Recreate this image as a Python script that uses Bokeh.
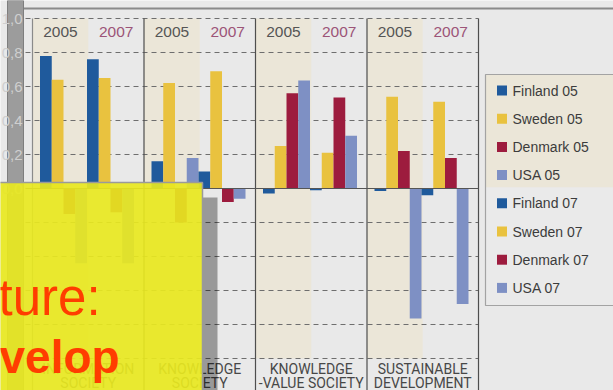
from bokeh.plotting import figure
from bokeh.models import Range1d, ColumnDataSource
from bokeh.core.properties import value
from bokeh.embed import file_html
from bokeh.resources import INLINE

# ---- data -------------------------------------------------------------
category_line1 = ["INFORMATION", "KNOWLEDGE", "KNOWLEDGE", "SUSTAINABLE"]
category_line2 = ["SOCIETY", "SOCIETY", "-VALUE SOCIETY", "DEVELOPMENT"]
years = ["2005", "2007"]
countries = ["Finland", "Sweden", "Denmark", "USA"]
country_colors = ["#1f5a9c", "#e9c23f", "#9d1c3e", "#7e90c4"]

finland_05 = [0.78, 0.16, -0.03, -0.015]
sweden_05 = [0.64, 0.62, 0.25, 0.54]
denmark_05 = [-0.15, -0.20, 0.56, 0.22]
usa_05 = [-0.44, 0.18, 0.635, -0.765]
finland_07 = [0.76, 0.10, -0.01, -0.04]
sweden_07 = [0.65, 0.69, 0.21, 0.51]
denmark_07 = [-0.14, -0.08, 0.535, 0.18]
usa_07 = [-0.44, -0.06, 0.31, -0.68]

grid_values = [1.0, 0.8, 0.6, 0.4, 0.2, -0.2, -0.4, -0.6, -0.8, -1.0]
y_ticks = [1.0, 0.8, 0.6, 0.4, 0.2, 0.0]
y_tick_labels = ["1,0", "0,8", "0,6", "0,4", "0,2", "0,0"]

# ---- layout helpers (canvas pixels -> data space) ---------------------
W, H = 613, 390
PANEL_LEFT, PANEL_W = 32.0, 111.5
ZERO_Y, PX_PER_UNIT = 188.0, 170.0
BAR_OFF, BAR_W = 7.5 / PANEL_W, 11.75 / PANEL_W


def sx(px):
    return (px - PANEL_LEFT) / PANEL_W


def sy(py):
    return (ZERO_Y - py) / PX_PER_UNIT


BG = "#e9e9e9"
BEIGE = "#ebe6d8"
FONT = "Liberation Sans"
NARROW = "Roboto"

p = figure(width=W, height=H, x_range=Range1d(sx(0), sx(W)),
           y_range=Range1d(sy(H), sy(0)), x_axis_location=None,
           y_axis_location=None, toolbar_location=None,
           output_backend="svg", min_border=0)
p.grid.visible = False
p.outline_line_color = None
p.background_fill_color = BG
p.border_fill_color = BG

n_cat = len(category_line1)

# 2005 halves of every panel get a beige band
p.quad(left=[i for i in range(n_cat)], right=[i + 0.5 for i in range(n_cat)],
       top=1.0, bottom=-1.0, fill_color=BEIGE, line_color=None)

# dashed grid, solid zero line
grid_x0, grid_x1 = sx(25), float(n_cat)
p.segment(x0=[grid_x0] * len(grid_values), y0=grid_values,
          x1=[grid_x1] * len(grid_values), y1=grid_values,
          line_color="#6e6e6e", line_width=1, line_dash="5 4")

# panel separators and left frame
p.segment(x0=[0], y0=[1.0], x1=[0], y1=[sy(H)], line_color="#8a8a8a", line_width=1.2)
p.segment(x0=list(range(1, n_cat + 1)), y0=[1.0] * n_cat,
          x1=list(range(1, n_cat + 1)), y1=[sy(H)] * n_cat,
          line_color="#4e4e4e", line_width=1.2)

# bars: 4 countries for 2005, then 4 for 2007, side by side in each panel
series = [finland_05, sweden_05, denmark_05, usa_05,
          finland_07, sweden_07, denmark_07, usa_07]
series_names = [f"{c} {y[-2:]}" for y in years for c in countries]
series_colors = country_colors * 2
for k, (vals, color, name) in enumerate(zip(series, series_colors, series_names)):
    xs = [i + BAR_OFF + BAR_W * (k + 0.5) for i in range(n_cat)]
    src = ColumnDataSource(dict(x=xs, top=vals))
    p.vbar(x="x", top="top", bottom=0, width=BAR_W, source=src,
           fill_color=color, line_color=None)

p.segment(x0=[sx(25)], y0=[0], x1=[float(n_cat)], y1=[0],
          line_color="#555555", line_width=1.2)

# year headers
year_colors = ["#555555", "#9c5478"]
for j, (yr, yc) in enumerate(zip(years, year_colors)):
    p.text(x=[i + 0.25 + 0.5 * j for i in range(n_cat)], y=[sy(31.5)] * n_cat,
           text=[yr] * n_cat, text_font=value(FONT), text_font_size="15.5px",
           text_color=yc, text_align="center", text_baseline="middle")

# category names under the panels
p.text(x=[i + 0.5 for i in range(n_cat)], y=[sy(368)] * n_cat, text=category_line1,
       text_font=value(NARROW), text_font_size="14px", text_color="#474747",
       text_align="center", text_baseline="middle")
p.text(x=[i + 0.5 for i in range(n_cat)], y=[sy(382.5)] * n_cat, text=category_line2,
       text_font=value(NARROW), text_font_size="14px", text_color="#474747",
       text_align="center", text_baseline="middle")

# legend
lg_top, lg_mid, lg_bot = sy(74), sy(187), sy(305)
p.quad(left=[sx(485)], right=[sx(640)], top=[lg_top], bottom=[lg_mid],
       fill_color=BEIGE, line_color=None)
p.quad(left=[sx(485)], right=[sx(640)], top=[lg_mid], bottom=[lg_bot],
       fill_color="#eaeaea", line_color=None)
p.quad(left=[sx(485)], right=[sx(640)], top=[lg_top], bottom=[lg_bot],
       fill_color=None, line_color="#a3a3a3", line_width=1.2)
row_y = [sy(90 + 28.2 * k) for k in range(len(series_names))]
p.rect(x=[sx(501.5)] * len(row_y), y=row_y, width=10, height=10,
       width_units="screen", height_units="screen",
       fill_color=series_colors, line_color=None)
p.text(x=[sx(512)] * len(row_y), y=row_y, text=series_names,
       text_font=value(FONT), text_font_size="14px", text_color="#3c3c3c",
       text_align="left", text_baseline="middle")

# grey strip and rule along the top-left of the slide
p.segment(x0=[sx(23)], y0=[sy(8)], x1=[sx(W)], y1=[sy(8)],
          line_color="#8a8a8a", line_width=2)
p.quad(left=[sx(7)], right=[sx(23)], top=[sy(0)], bottom=[sy(H)],
       fill_color="#000000", fill_alpha=0.33, line_color="#7e7e7e", line_width=1)
p.text(x=[sx(22)] * len(y_ticks), y=y_ticks, text=y_tick_labels,
       text_font=value(FONT), text_font_size="15px", text_color="#cfcfcf",
       text_align="right", text_baseline="middle")

# caption box with its shadow
p.quad(left=[sx(202)], right=[sx(217)], top=[sy(197)], bottom=[sy(H + 10)],
       fill_color="#000000", fill_alpha=0.34, line_color=None)
p.quad(left=[sx(-5)], right=[sx(202)], top=[sy(182)], bottom=[sy(H + 10)],
       fill_color="#e8e81f", fill_alpha=0.92, line_color=None)
p.line(x=[sx(-5), sx(202), sx(202)], y=[sy(182), sy(182), sy(H + 10)],
       line_color="#9a9a9a", line_width=1.5)
p.text(x=[sx(-2)], y=[sy(297)], text=["ture:"], text_font=value(FONT),
       text_font_size="51px", text_color="#ff3d00", text_align="left",
       text_baseline="alphabetic")
p.text(x=[sx(-1)], y=[sy(356)], text=["velop"], text_font=value(FONT),
       text_font_size="46px", text_font_style="bold", text_color="#ff3d00",
       text_align="left", text_baseline="alphabetic")

open("out.html", "w").write(file_html(p, INLINE))
